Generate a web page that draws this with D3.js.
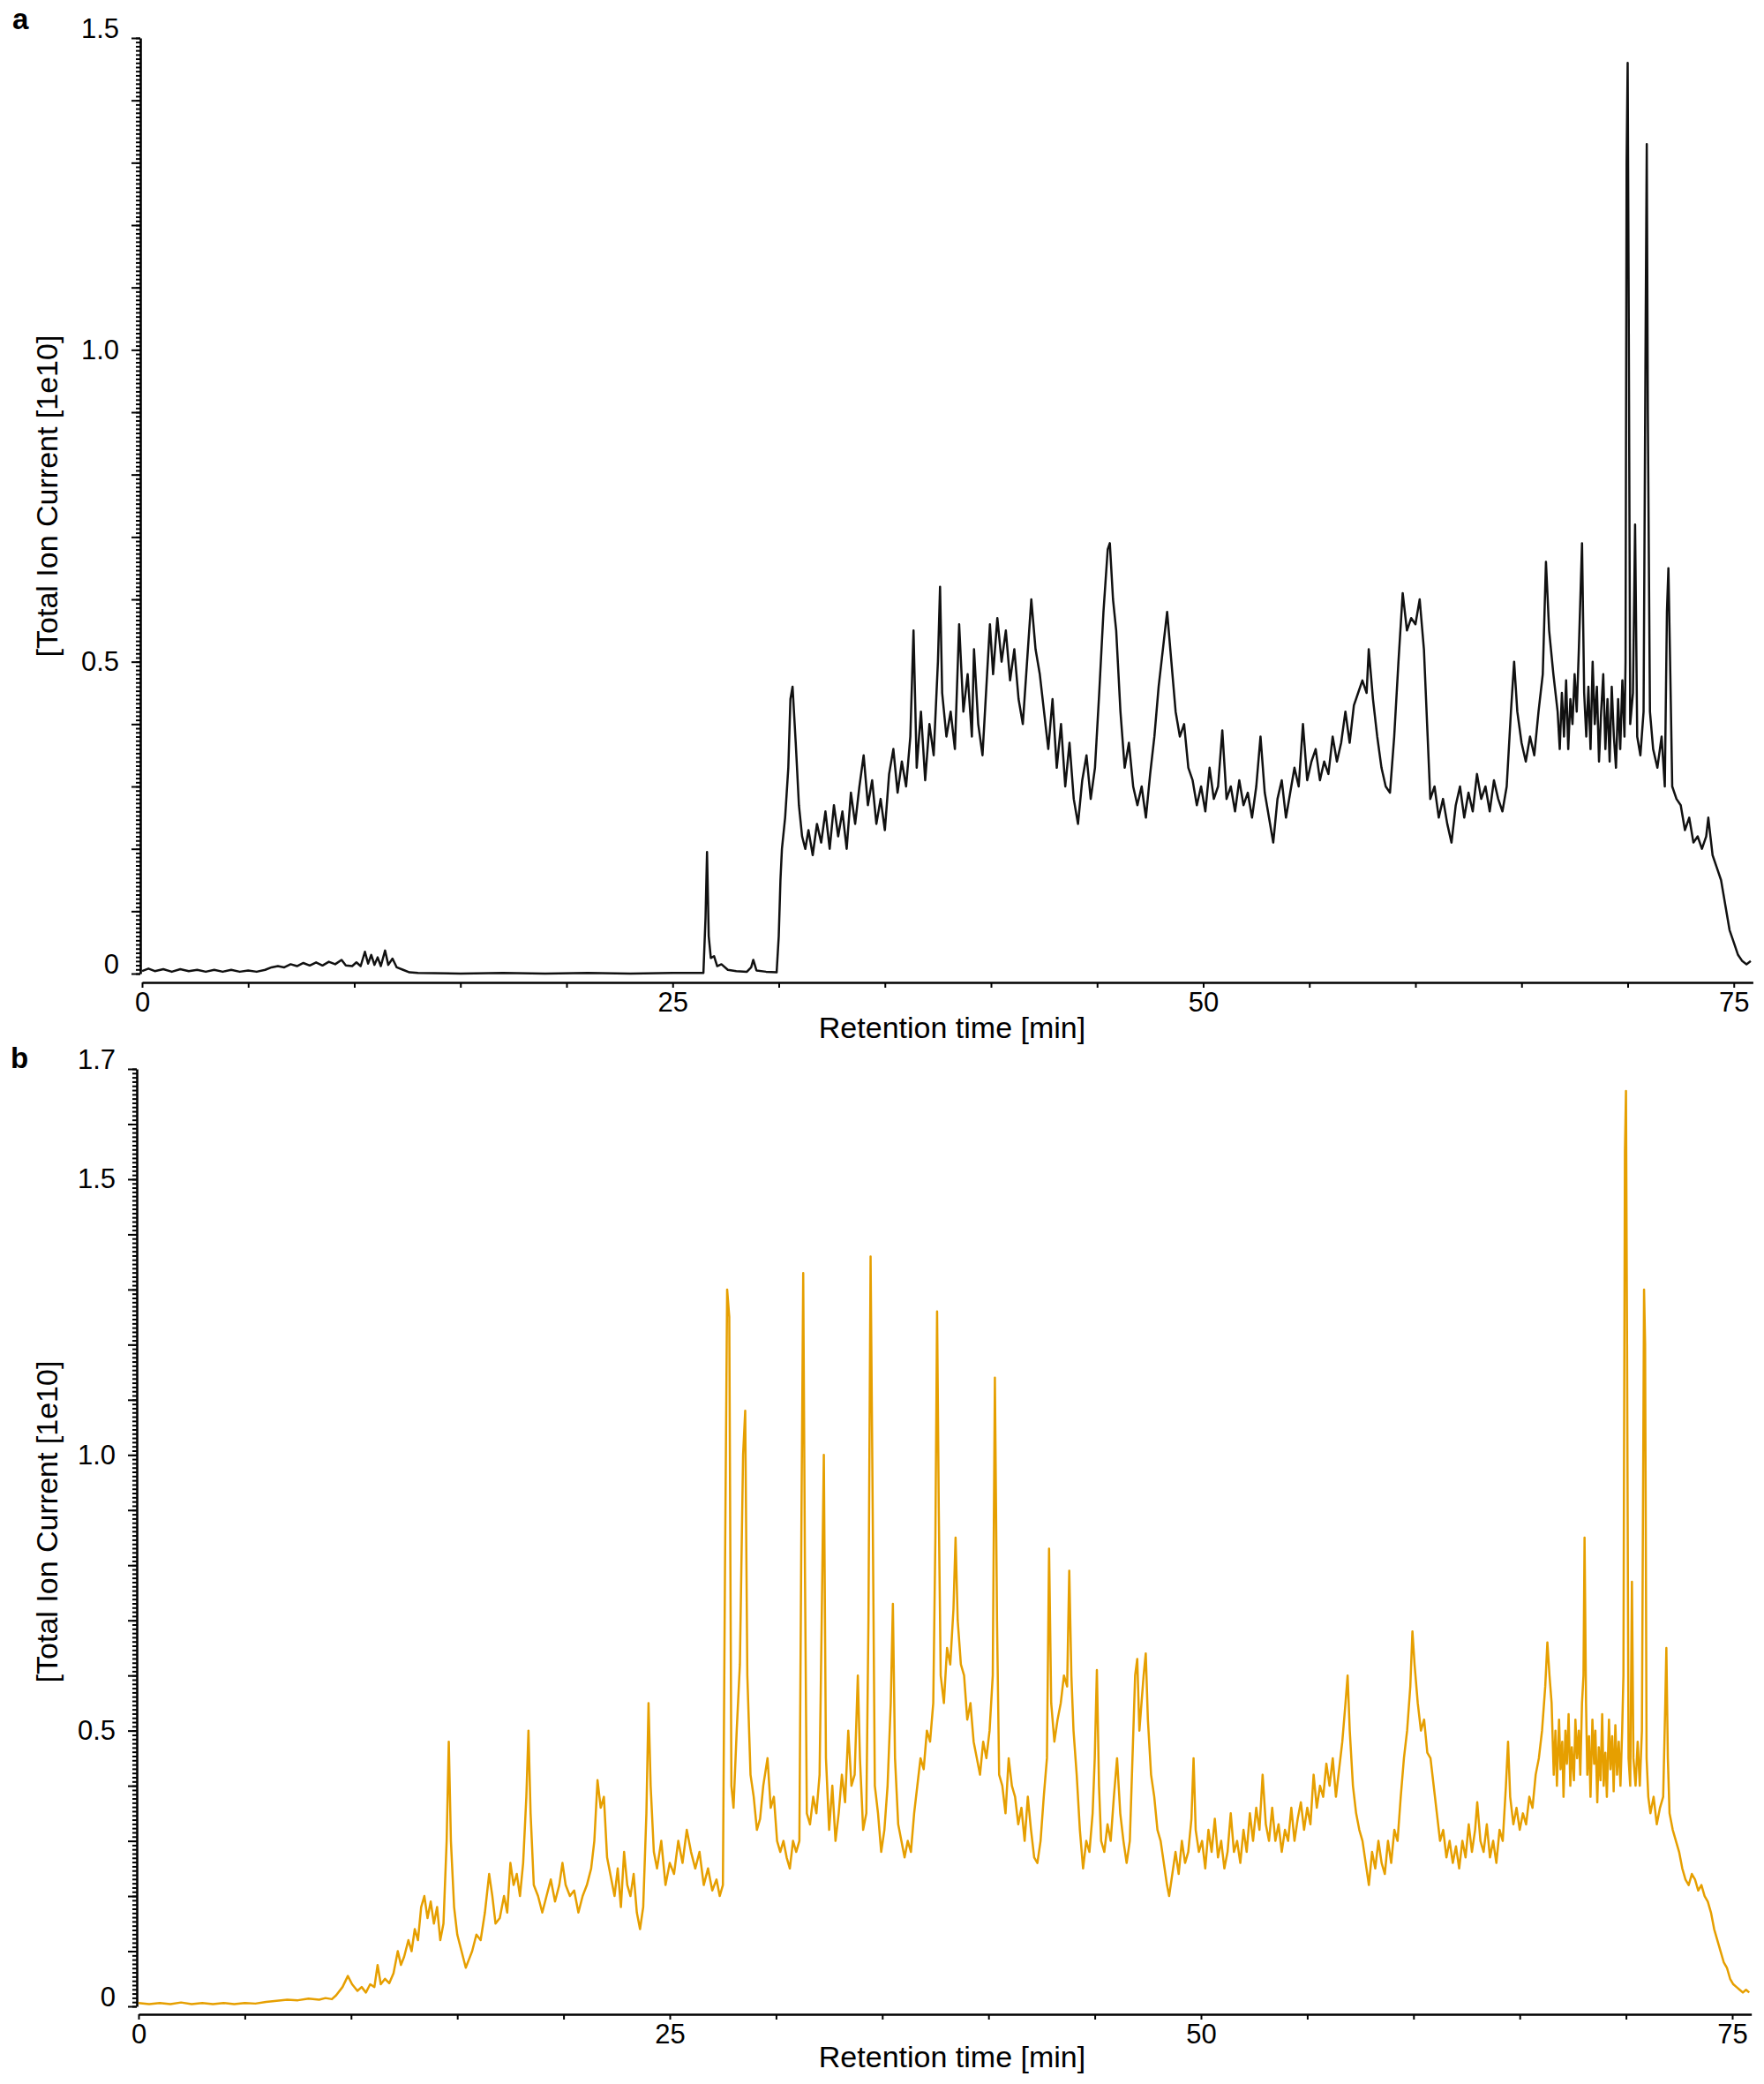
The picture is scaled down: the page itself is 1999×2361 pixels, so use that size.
<!DOCTYPE html>
<html>
<head>
<meta charset="utf-8">
<script src="https://cdn.jsdelivr.net/npm/d3@7"></script>
<style>
  html, body { margin: 0; padding: 0; background: #fff; }
  svg { display: block; font-family: "Liberation Sans", Arial, sans-serif; }
</style>
</head>
<body>
<svg id="chart" width="1999" height="2361" viewBox="0 0 1999 2361"></svg>
<script>
// retention time ticks (min) and labelled ones
const timeTicks = [0, 5, 10, 15, 20, 25, 30, 35, 40, 45, 50, 55, 60, 65, 70, 75];
const timeLabels = [0, 25, 50, 75];
const ticLabelsA = [0, 0.5, 1.0, 1.5];
const ticLabelsB = [0, 0.5, 1.0, 1.5, 1.7];

// [retention time (min), total ion current (1e10)]
const traceA = [
  [0,0.004],[0.3,0.008],[0.6,0.004],[1,0.007],[1.4,0.003],[1.8,0.007],[2.2,0.004],[2.6,0.006],[3,0.003],[3.4,0.006],
  [3.8,0.003],[4.2,0.006],[4.6,0.003],[5,0.005],[5.4,0.003],[5.8,0.006],[6.1,0.01],[6.4,0.012],[6.7,0.01],[7,0.015],
  [7.3,0.012],[7.6,0.017],[7.9,0.013],[8.2,0.018],[8.5,0.013],[8.8,0.019],[9.1,0.015],[9.4,0.022],[9.6,0.013],[9.9,0.012],
  [10.1,0.018],[10.3,0.012],[10.5,0.035],[10.65,0.016],[10.8,0.03],[10.95,0.014],[11.1,0.026],[11.25,0.012],[11.45,0.037],[11.6,0.014],
  [11.8,0.024],[12,0.01],[12.3,0.006],[12.6,0.002],[13,0.001],[15,0],[17,0.001],[19,0],[21,0.001],[23,0],
  [25,0.001],[26.45,0.001],[26.55,0.09],[26.62,0.195],[26.7,0.06],[26.8,0.025],[26.95,0.028],[27.1,0.012],[27.3,0.015],[27.6,0.006],
  [28,0.004],[28.5,0.003],[28.7,0.01],[28.8,0.022],[28.95,0.005],[29.4,0.003],[29.9,0.002],[30,0.06],[30.08,0.15],[30.15,0.2],
  [30.3,0.25],[30.45,0.33],[30.55,0.44],[30.65,0.46],[30.8,0.37],[30.95,0.27],[31.1,0.22],[31.25,0.2],[31.4,0.23],[31.6,0.19],
  [31.8,0.24],[32,0.21],[32.2,0.26],[32.4,0.2],[32.6,0.27],[32.8,0.22],[33,0.26],[33.2,0.2],[33.4,0.29],[33.6,0.24],
  [33.8,0.3],[34,0.35],[34.2,0.27],[34.4,0.31],[34.6,0.24],[34.8,0.28],[35,0.23],[35.2,0.32],[35.4,0.36],[35.6,0.29],
  [35.8,0.34],[36,0.3],[36.2,0.38],[36.35,0.55],[36.5,0.33],[36.7,0.42],[36.9,0.31],[37.1,0.4],[37.3,0.35],[37.5,0.5],
  [37.6,0.62],[37.7,0.45],[37.9,0.38],[38.1,0.42],[38.3,0.36],[38.5,0.56],[38.7,0.42],[38.9,0.48],[39.1,0.38],[39.2,0.52],
  [39.4,0.4],[39.6,0.35],[39.8,0.47],[39.95,0.56],[40.1,0.48],[40.3,0.57],[40.5,0.5],[40.7,0.55],[40.9,0.47],[41.1,0.52],
  [41.3,0.44],[41.5,0.4],[41.7,0.5],[41.9,0.6],[42.1,0.52],[42.3,0.48],[42.5,0.42],[42.7,0.36],[42.9,0.44],[43.1,0.33],
  [43.3,0.4],[43.5,0.3],[43.7,0.37],[43.9,0.28],[44.1,0.24],[44.3,0.31],[44.5,0.35],[44.7,0.28],[44.9,0.33],[45.1,0.45],
  [45.3,0.58],[45.5,0.68],[45.6,0.69],[45.75,0.6],[45.9,0.55],[46.1,0.42],[46.3,0.33],[46.5,0.37],[46.7,0.3],[46.9,0.27],
  [47.1,0.3],[47.3,0.25],[47.5,0.32],[47.7,0.38],[47.9,0.46],[48.1,0.52],[48.3,0.58],[48.5,0.5],[48.7,0.42],[48.9,0.38],
  [49.1,0.4],[49.3,0.33],[49.5,0.31],[49.7,0.27],[49.9,0.3],[50.1,0.26],[50.3,0.33],[50.5,0.28],[50.7,0.3],[50.9,0.39],
  [51.1,0.28],[51.3,0.3],[51.5,0.26],[51.7,0.31],[51.9,0.27],[52.1,0.29],[52.3,0.25],[52.5,0.3],[52.7,0.38],[52.9,0.29],
  [53.1,0.25],[53.3,0.21],[53.5,0.28],[53.7,0.31],[53.9,0.25],[54.1,0.29],[54.3,0.33],[54.5,0.3],[54.7,0.4],[54.9,0.31],
  [55.1,0.34],[55.3,0.36],[55.5,0.31],[55.7,0.34],[55.9,0.32],[56.1,0.38],[56.3,0.34],[56.5,0.37],[56.7,0.42],[56.9,0.37],
  [57.1,0.43],[57.3,0.45],[57.5,0.47],[57.7,0.45],[57.8,0.52],[58,0.44],[58.2,0.38],[58.4,0.33],[58.6,0.3],[58.8,0.29],
  [59,0.38],[59.2,0.5],[59.4,0.61],[59.6,0.55],[59.8,0.57],[60,0.56],[60.2,0.6],[60.4,0.52],[60.55,0.4],[60.7,0.28],
  [60.9,0.3],[61.1,0.25],[61.3,0.28],[61.5,0.24],[61.7,0.21],[61.9,0.27],[62.1,0.3],[62.3,0.25],[62.5,0.29],[62.7,0.26],
  [62.9,0.32],[63.1,0.28],[63.3,0.3],[63.5,0.26],[63.7,0.31],[63.9,0.28],[64.1,0.26],[64.3,0.3],[64.5,0.42],[64.65,0.5],
  [64.8,0.42],[65,0.37],[65.2,0.34],[65.4,0.38],[65.6,0.35],[65.8,0.42],[66,0.48],[66.15,0.66],[66.3,0.55],[66.5,0.48],
  [66.7,0.42],[66.8,0.36],[66.9,0.45],[67,0.38],[67.1,0.47],[67.2,0.36],[67.3,0.44],[67.4,0.4],[67.5,0.48],[67.6,0.42],
  [67.7,0.52],[67.85,0.69],[67.95,0.45],[68.05,0.38],[68.15,0.46],[68.25,0.36],[68.35,0.5],[68.45,0.4],[68.55,0.46],[68.65,0.34],
  [68.75,0.42],[68.85,0.48],[68.95,0.36],[69.05,0.44],[69.15,0.34],[69.25,0.46],[69.35,0.38],[69.45,0.33],[69.55,0.44],[69.65,0.36],
  [69.75,0.47],[69.85,0.38],[69.9,0.5],[69.95,1.3],[70,1.46],[70.05,1.06],[70.12,0.4],[70.25,0.45],[70.35,0.72],[70.45,0.38],
  [70.6,0.35],[70.75,0.42],[70.85,1.05],[70.9,1.33],[70.95,0.9],[71.05,0.42],[71.2,0.36],[71.4,0.33],[71.6,0.38],[71.75,0.3],
  [71.85,0.58],[71.92,0.65],[72,0.5],[72.1,0.3],[72.3,0.28],[72.5,0.27],[72.7,0.23],[72.9,0.25],[73.1,0.21],[73.3,0.22],
  [73.5,0.2],[73.7,0.22],[73.8,0.25],[74,0.19],[74.2,0.17],[74.4,0.15],[74.6,0.11],[74.8,0.07],[75,0.05],[75.2,0.03],
  [75.4,0.02],[75.6,0.015],[75.8,0.02]
];

const traceB = [
  [0,0.006],[0.5,0.004],[1,0.006],[1.5,0.004],[2,0.007],[2.5,0.004],[3,0.006],[3.5,0.004],[4,0.006],[4.5,0.004],
  [5,0.006],[5.5,0.005],[6,0.008],[6.5,0.01],[7,0.012],[7.5,0.011],[8,0.014],[8.5,0.012],[8.8,0.015],[9.1,0.013],
  [9.3,0.02],[9.6,0.035],[9.85,0.055],[10.05,0.04],[10.3,0.028],[10.5,0.035],[10.7,0.025],[10.9,0.04],[11.1,0.035],[11.25,0.075],
  [11.4,0.04],[11.6,0.05],[11.8,0.042],[12,0.06],[12.2,0.1],[12.35,0.075],[12.5,0.09],[12.7,0.12],[12.85,0.1],[13,0.14],
  [13.15,0.12],[13.3,0.18],[13.45,0.2],[13.6,0.16],[13.75,0.19],[13.9,0.15],[14.05,0.18],[14.2,0.12],[14.35,0.15],[14.5,0.3],
  [14.6,0.48],[14.7,0.3],[14.85,0.18],[15,0.13],[15.2,0.1],[15.4,0.07],[15.55,0.085],[15.7,0.1],[15.9,0.13],[16.1,0.12],
  [16.3,0.17],[16.5,0.24],[16.65,0.2],[16.8,0.15],[17,0.16],[17.2,0.2],[17.35,0.17],[17.5,0.26],[17.65,0.22],[17.8,0.24],
  [17.95,0.2],[18.1,0.26],[18.25,0.38],[18.35,0.5],[18.45,0.35],[18.6,0.22],[18.8,0.2],[19,0.17],[19.2,0.2],[19.4,0.23],
  [19.6,0.19],[19.8,0.22],[19.95,0.26],[20.1,0.22],[20.3,0.2],[20.5,0.21],[20.7,0.17],[20.9,0.2],[21.1,0.22],[21.3,0.25],
  [21.45,0.3],[21.6,0.41],[21.75,0.36],[21.9,0.38],[22.05,0.27],[22.2,0.24],[22.4,0.2],[22.55,0.25],[22.7,0.18],[22.85,0.28],
  [23,0.22],[23.15,0.2],[23.3,0.24],[23.45,0.17],[23.6,0.14],[23.75,0.18],[23.9,0.35],[24,0.55],[24.1,0.4],[24.25,0.28],
  [24.4,0.25],[24.6,0.3],[24.8,0.22],[25,0.26],[25.2,0.24],[25.4,0.3],[25.6,0.26],[25.8,0.32],[26,0.28],[26.2,0.25],
  [26.4,0.28],[26.6,0.22],[26.8,0.25],[27,0.21],[27.2,0.23],[27.35,0.2],[27.5,0.22],[27.6,0.8],[27.7,1.3],[27.8,1.25],
  [27.9,0.4],[28,0.36],[28.15,0.5],[28.3,0.62],[28.45,1],[28.55,1.08],[28.65,0.6],[28.8,0.42],[28.95,0.38],[29.1,0.32],
  [29.25,0.34],[29.4,0.4],[29.6,0.45],[29.75,0.36],[29.9,0.38],[30.05,0.3],[30.2,0.28],[30.35,0.3],[30.5,0.27],[30.65,0.25],
  [30.8,0.3],[30.95,0.28],[31.1,0.3],[31.2,0.9],[31.28,1.33],[31.36,0.8],[31.45,0.35],[31.6,0.33],[31.75,0.38],[31.9,0.35],
  [32.05,0.42],[32.15,0.7],[32.25,1],[32.35,0.45],[32.5,0.32],[32.65,0.4],[32.8,0.3],[32.95,0.35],[33.1,0.42],[33.25,0.37],
  [33.4,0.5],[33.55,0.4],[33.7,0.42],[33.85,0.6],[33.95,0.45],[34.1,0.32],[34.25,0.35],[34.35,0.7],[34.45,1.36],[34.55,0.9],
  [34.65,0.4],[34.8,0.35],[34.95,0.28],[35.1,0.32],[35.25,0.4],[35.4,0.55],[35.5,0.73],[35.6,0.45],[35.75,0.33],[35.9,0.3],
  [36.05,0.27],[36.2,0.3],[36.35,0.28],[36.5,0.35],[36.65,0.4],[36.8,0.45],[36.95,0.43],[37.1,0.5],[37.25,0.48],[37.4,0.55],
  [37.5,0.85],[37.58,1.26],[37.66,0.9],[37.75,0.6],[37.9,0.55],[38.05,0.65],[38.2,0.62],[38.35,0.72],[38.45,0.85],[38.55,0.7],
  [38.7,0.62],[38.85,0.6],[39,0.52],[39.15,0.55],[39.3,0.48],[39.45,0.45],[39.6,0.42],[39.75,0.48],[39.9,0.45],[40.05,0.5],
  [40.2,0.6],[40.3,1.14],[40.4,0.7],[40.5,0.42],[40.65,0.4],[40.8,0.35],[40.95,0.45],[41.1,0.4],[41.25,0.38],[41.4,0.33],
  [41.55,0.36],[41.7,0.3],[41.85,0.38],[42,0.32],[42.15,0.27],[42.3,0.26],[42.45,0.3],[42.6,0.38],[42.75,0.45],[42.85,0.83],
  [42.95,0.55],[43.1,0.48],[43.25,0.52],[43.4,0.55],[43.55,0.6],[43.7,0.58],[43.8,0.79],[43.9,0.6],[44,0.5],[44.15,0.42],
  [44.3,0.32],[44.45,0.25],[44.6,0.3],[44.75,0.28],[44.9,0.35],[45,0.45],[45.1,0.61],[45.2,0.4],[45.3,0.3],[45.45,0.28],
  [45.6,0.33],[45.75,0.3],[45.9,0.38],[46.05,0.45],[46.2,0.35],[46.35,0.3],[46.5,0.26],[46.65,0.3],[46.8,0.48],[46.9,0.6],
  [47,0.63],[47.1,0.5],[47.2,0.55],[47.3,0.6],[47.4,0.64],[47.5,0.52],[47.65,0.42],[47.8,0.38],[47.95,0.32],[48.1,0.3],
  [48.25,0.26],[48.4,0.22],[48.5,0.2],[48.65,0.24],[48.8,0.28],[48.95,0.24],[49.1,0.3],[49.25,0.26],[49.4,0.28],[49.55,0.34],
  [49.65,0.45],[49.75,0.32],[49.9,0.28],[50.05,0.3],[50.2,0.25],[50.35,0.32],[50.5,0.28],[50.65,0.34],[50.8,0.27],[50.95,0.3],
  [51.1,0.25],[51.25,0.28],[51.4,0.35],[51.55,0.28],[51.7,0.3],[51.85,0.26],[52,0.32],[52.15,0.28],[52.3,0.35],[52.45,0.3],
  [52.6,0.36],[52.75,0.32],[52.9,0.42],[53.05,0.33],[53.2,0.3],[53.35,0.36],[53.5,0.3],[53.65,0.33],[53.8,0.28],[53.95,0.32],
  [54.1,0.3],[54.25,0.36],[54.4,0.3],[54.55,0.34],[54.7,0.37],[54.85,0.32],[55,0.36],[55.15,0.33],[55.3,0.42],[55.45,0.36],
  [55.6,0.4],[55.75,0.38],[55.9,0.44],[56.05,0.4],[56.2,0.45],[56.35,0.38],[56.5,0.43],[56.65,0.48],[56.8,0.55],[56.9,0.6],
  [57,0.5],[57.15,0.4],[57.3,0.35],[57.45,0.32],[57.6,0.3],[57.75,0.26],[57.9,0.22],[58.05,0.28],[58.2,0.25],[58.35,0.3],
  [58.5,0.26],[58.65,0.24],[58.8,0.3],[58.95,0.26],[59.1,0.32],[59.25,0.3],[59.4,0.38],[59.55,0.45],[59.7,0.5],[59.85,0.58],
  [59.95,0.68],[60.05,0.62],[60.2,0.55],[60.35,0.5],[60.5,0.52],[60.65,0.46],[60.8,0.45],[60.95,0.4],[61.1,0.35],[61.25,0.3],
  [61.4,0.32],[61.55,0.27],[61.7,0.3],[61.85,0.26],[62,0.29],[62.15,0.25],[62.3,0.3],[62.45,0.27],[62.6,0.33],[62.75,0.28],
  [62.9,0.32],[63,0.37],[63.15,0.3],[63.3,0.28],[63.45,0.33],[63.6,0.27],[63.75,0.3],[63.9,0.26],[64.05,0.32],[64.2,0.3],
  [64.35,0.4],[64.45,0.48],[64.55,0.38],[64.7,0.33],[64.85,0.36],[65,0.32],[65.15,0.35],[65.3,0.33],[65.45,0.38],[65.6,0.36],
  [65.75,0.42],[65.9,0.45],[66.05,0.5],[66.2,0.58],[66.3,0.66],[66.4,0.6],[66.5,0.55],[66.6,0.42],[66.68,0.5],[66.75,0.4],
  [66.85,0.52],[66.92,0.43],[67,0.48],[67.06,0.38],[67.15,0.5],[67.22,0.44],[67.3,0.53],[67.38,0.4],[67.45,0.47],[67.55,0.41],
  [67.62,0.52],[67.7,0.45],[67.78,0.5],[67.85,0.42],[67.93,0.55],[68,0.6],[68.05,0.85],[68.12,0.55],[68.18,0.42],[68.26,0.49],
  [68.33,0.38],[68.42,0.52],[68.5,0.44],[68.56,0.5],[68.65,0.37],[68.72,0.47],[68.8,0.41],[68.88,0.53],[68.95,0.4],[69.03,0.46],
  [69.1,0.38],[69.2,0.52],[69.27,0.43],[69.35,0.49],[69.42,0.39],[69.5,0.51],[69.58,0.42],[69.66,0.48],[69.74,0.4],[69.82,0.5],
  [69.88,0.6],[69.95,1.55],[70,1.66],[70.05,1.2],[70.12,0.45],[70.2,0.4],[70.28,0.77],[70.35,0.45],[70.45,0.4],[70.55,0.48],
  [70.65,0.4],[70.75,0.5],[70.85,1.3],[70.9,1.2],[70.97,0.45],[71.05,0.38],[71.15,0.35],[71.3,0.38],[71.45,0.33],[71.6,0.36],
  [71.75,0.38],[71.85,0.55],[71.9,0.65],[71.97,0.45],[72.05,0.35],[72.2,0.32],[72.35,0.3],[72.5,0.28],[72.65,0.25],[72.8,0.23],
  [72.95,0.22],[73.1,0.24],[73.25,0.23],[73.4,0.21],[73.55,0.22],[73.7,0.2],[73.85,0.19],[74,0.17],[74.15,0.14],[74.3,0.12],
  [74.45,0.1],[74.6,0.08],[74.75,0.07],[74.9,0.05],[75.05,0.04],[75.2,0.035],[75.35,0.03],[75.5,0.025],[75.65,0.03],[75.8,0.025]
];

const svg = d3.select("#chart");
const fmtTic = (d) => (d === 0 ? "0" : d3.format(".1f")(d));

function drawPanel(p) {
  const g = svg.append("g").attr("class", `panel-${p.tag}`);

  const x = d3
    .scaleLinear()
    .domain([0, 75.9])
    .range([p.xStart, p.xStart + 75.9 * p.pxPerMin]);
  const y = d3.scaleLinear().domain([0, p.yMax]).range([p.yBottom, p.yTop]);

  // minor ticks on the intensity axis
  g.append("g")
    .attr("transform", `translate(${p.yAxisX},0)`)
    .call(
      d3
        .axisLeft(y)
        .tickValues(d3.range(0, p.yMax + 1e-9, 0.1 / p.minorPerMajor))
        .tickSize(5)
        .tickSizeOuter(0)
        .tickFormat("")
    )
    .call((s) => s.select(".domain").remove());

  const yAxis = g
    .append("g")
    .attr("transform", `translate(${p.yAxisX},0)`)
    .call(
      d3
        .axisLeft(y)
        .tickValues(d3.range(0, p.yMax + 1e-9, 0.1))
        .tickSize(10)
        .tickSizeOuter(0)
        .tickPadding(14)
        .tickFormat((d) =>
          p.ticLabels.some((l) => Math.abs(l - d) < 1e-6) ? fmtTic(d) : ""
        )
    );
  yAxis
    .selectAll("text")
    .filter((d) => d < 1e-6 || Math.abs(d - p.yMax) < 1e-6)
    .attr("y", -10);

  g.append("g")
    .attr("transform", `translate(0,${p.xAxisY})`)
    .call(
      d3
        .axisBottom(x)
        .tickValues(timeTicks)
        .tickSize(6)
        .tickSizeOuter(0)
        .tickPadding(5)
        .tickFormat((d) => (timeLabels.includes(d) ? d : ""))
    );

  g.selectAll(".domain").attr("stroke", "#000").attr("stroke-width", 2.6);
  g.selectAll(".tick line").attr("stroke", "#000").attr("stroke-width", 2);
  g.selectAll(".tick text")
    .attr("fill", "#000")
    .style("font-family", '"Liberation Sans", Arial, sans-serif')
    .style("font-size", "31px");

  const line = d3
    .line()
    .x((d) => x(d[0]))
    .y((d) => y(d[1]));

  g.append("path")
    .datum(p.data)
    .attr("d", line)
    .attr("fill", "none")
    .attr("stroke", p.color)
    .attr("stroke-width", 2.5)
    .attr("stroke-linejoin", "round");

  g.append("text")
    .attr("x", p.xTitleX)
    .attr("y", p.xTitleY)
    .attr("text-anchor", "middle")
    .style("font-size", "34px")
    .text("Retention time [min]");

  g.append("text")
    .attr("transform", `translate(${p.yTitleX},${p.yTitleY}) rotate(-90)`)
    .attr("text-anchor", "middle")
    .attr("dominant-baseline", "central")
    .style("font-size", "34px")
    .text("[Total Ion Current [1e10]");

  g.append("text")
    .attr("x", p.tagX)
    .attr("y", p.tagY)
    .style("font-size", "33px")
    .style("font-weight", "bold")
    .text(p.tag);
}

drawPanel({
  tag: "a",
  data: traceA,
  color: "#111111",
  ticLabels: ticLabelsA,
  yMax: 1.5,
  minorPerMajor: 15,
  xStart: 161,
  pxPerMin: 24.05,
  yTop: 43,
  yBottom: 1103,
  yAxisX: 159,
  xAxisY: 1113,
  xTitleX: 1079,
  xTitleY: 1176,
  yTitleX: 53,
  yTitleY: 562,
  tagX: 14,
  tagY: 33
});

drawPanel({
  tag: "b",
  data: traceB,
  color: "#E69F00",
  ticLabels: ticLabelsB,
  yMax: 1.7,
  minorPerMajor: 13,
  xStart: 157,
  pxPerMin: 24.08,
  yTop: 1211,
  yBottom: 2273,
  yAxisX: 155,
  xAxisY: 2282,
  xTitleX: 1079,
  xTitleY: 2342,
  yTitleX: 53,
  yTitleY: 1724,
  tagX: 12,
  tagY: 1210
});
</script>
</body>
</html>
